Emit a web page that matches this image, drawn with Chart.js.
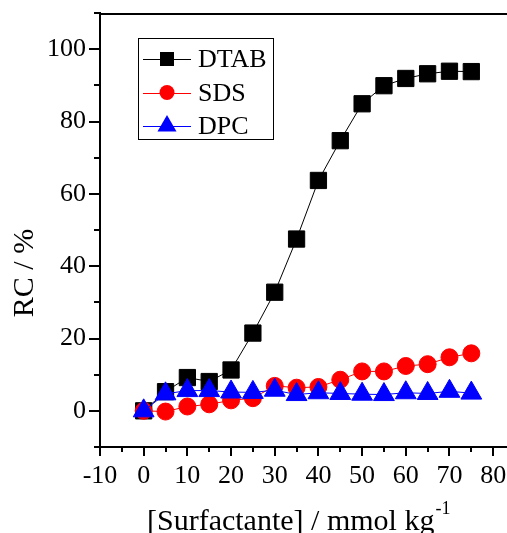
<!DOCTYPE html>
<html>
<head>
<meta charset="utf-8">
<script src="https://cdn.jsdelivr.net/npm/chart.js@4.4.1/dist/chart.umd.min.js"></script>
<style>
  html, body { margin: 0; padding: 0; overflow: hidden; background: #fff; }
  canvas { display: block; }
</style>
</head>
<body>
<canvas id="grafica" width="530" height="533"></canvas>
<script>
// datos
const concentracion = [0, 5, 10, 15, 20, 25, 30, 35, 40, 45, 50, 55, 60, 65, 70, 75];
const dtab = [0, 5.3, 9.2, 8.1, 11.3, 21.5, 32.8, 47.5, 63.7, 74.7, 84.9, 89.9, 91.9, 93.2, 93.9, 93.8];
const sds  = [0, -0.2, 1.2, 1.8, 2.9, 3.5, 6.9, 6.4, 6.6, 8.6, 10.9, 10.9, 12.4, 12.9, 14.8, 15.9];
const dpc  = [0, 4.7, 5.6, 5.6, 5.2, 5.1, 5.7, 4.5, 5.0, 4.8, 4.6, 4.5, 5.0, 4.8, 5.4, 4.9];
const nombres = ['DTAB', 'SDS', 'DPC'];

// etiquetas de los ejes
const etiquetasX = [-10, 0, 10, 20, 30, 40, 50, 60, 70, 80];
const etiquetasY = [0, 20, 40, 60, 80, 100];
const tituloX = '[Surfactante] / mmol kg';
const tituloY = 'RC / %';

const fuente = 'Liberation Serif';
Chart.defaults.font.family = fuente;

function puntos(valores) {
    return concentracion.map((c, i) => ({ x: c, y: valores[i] }));
}

function dibujarMarca(ctx, estilo, x, y, r) {
    ctx.beginPath();
    if (estilo === 'rect') {
        ctx.rect(x - r, y - r, 2 * r, 2 * r);
    } else if (estilo === 'circle') {
        ctx.arc(x, y, r, 0, Math.PI * 2);
    } else {
        ctx.moveTo(x, y - r);
        ctx.lineTo(x + r * 0.866, y + r / 2);
        ctx.lineTo(x - r * 0.866, y + r / 2);
        ctx.closePath();
    }
    ctx.fill();
}

function sinRelleno(s) {
    s.paddingTop = 0;
    s.paddingBottom = 0;
    s.paddingLeft = 0;
    s.paddingRight = 0;
}

// marcas de los ejes, marco y titulos
const ejes = {
    id: 'ejes',
    afterDraw(chart) {
        const { ctx, chartArea: a, scales: { x, y } } = chart;
        ctx.save();
        ctx.strokeStyle = '#000';
        ctx.lineWidth = 2;
        ctx.beginPath();
        ctx.moveTo(a.left - 1, a.top + 1);
        ctx.lineTo(a.right, a.top + 1);
        ctx.lineTo(a.right, a.bottom);
        x.ticks.forEach(t => {
            const px = Math.round(x.getPixelForValue(t.value));
            const largo = etiquetasX.includes(t.value) ? 9 : 5;
            ctx.moveTo(px, a.bottom);
            ctx.lineTo(px, a.bottom + largo);
        });
        y.ticks.forEach(t => {
            const py = Math.round(y.getPixelForValue(t.value));
            const largo = etiquetasY.includes(t.value) ? 11 : 6;
            ctx.moveTo(a.left, py);
            ctx.lineTo(a.left - largo, py);
        });
        ctx.stroke();

        ctx.fillStyle = '#000';
        ctx.textBaseline = 'alphabetic';
        ctx.font = '30px ' + fuente;
        ctx.textAlign = 'left';
        ctx.fillText(tituloX, 147, 530);
        const ancho = ctx.measureText(tituloX).width;
        ctx.font = '18px ' + fuente;
        ctx.fillText('-1', 147 + ancho + 1, 514);

        ctx.translate(33, 273);
        ctx.rotate(-Math.PI / 2);
        ctx.font = '30px ' + fuente;
        ctx.textAlign = 'center';
        ctx.fillText(tituloY, 0, 0);
        ctx.restore();
    }
};

// leyenda con caja
const leyenda = {
    id: 'leyenda',
    afterDraw(chart) {
        const ctx = chart.ctx;
        ctx.save();
        ctx.fillStyle = '#fff';
        ctx.fillRect(138, 38, 136, 101);
        ctx.strokeStyle = '#000';
        ctx.lineWidth = 1;
        ctx.strokeRect(138.5, 38.5, 135, 101);
        const filas = [59, 92.5, 126];
        const tam = [7, 7.5, 11];
        chart.data.datasets.forEach((ds, i) => {
            const yy = filas[i];
            ctx.strokeStyle = ds.borderColor;
            ctx.lineWidth = 1;
            ctx.beginPath();
            ctx.moveTo(143, Math.round(yy) + 0.5);
            ctx.lineTo(191, Math.round(yy) + 0.5);
            ctx.stroke();
            ctx.fillStyle = ds.backgroundColor;
            dibujarMarca(ctx, ds.pointStyle, 167, yy, tam[i]);
            ctx.fillStyle = '#000';
            ctx.font = '26px ' + fuente;
            ctx.textAlign = 'left';
            ctx.textBaseline = 'alphabetic';
            ctx.fillText(ds.label, 198, yy + 8);
        });
        ctx.restore();
    }
};

new Chart(document.getElementById('grafica'), {
    type: 'scatter',
    data: {
        datasets: [
            {
                label: nombres[0], data: puntos(dtab), showLine: true,
                borderColor: '#000000', backgroundColor: '#000000', borderWidth: 1,
                pointStyle: 'rect', pointRadius: 11.5, pointBorderWidth: 1, order: 3
            },
            {
                label: nombres[1], data: puntos(sds), showLine: true,
                borderColor: '#ff0000', backgroundColor: '#ff0000', borderWidth: 1,
                pointStyle: 'circle', pointRadius: 8.5, pointBorderWidth: 1, order: 2
            },
            {
                label: nombres[2], data: puntos(dpc), showLine: true,
                borderColor: '#0000ff', backgroundColor: '#0000ff', borderWidth: 1,
                pointStyle: 'triangle', pointRadius: 12, pointBorderWidth: 1, order: 1
            }
        ]
    },
    options: {
        responsive: false,
        devicePixelRatio: 1,
        animation: false,
        events: [],
        layout: { padding: { top: 13, right: 15, left: 0, bottom: 0 } },
        plugins: { legend: { display: false }, tooltip: { enabled: false } },
        scales: {
            x: {
                type: 'linear', min: -10, max: 85,
                grid: { display: true, drawOnChartArea: false, drawTicks: false },
                border: { display: true, color: '#000', width: 2 },
                ticks: {
                    stepSize: 5, padding: 14, color: '#000', maxRotation: 0, autoSkip: false,
                    font: { family: fuente, size: 26 },
                    callback: v => etiquetasX.includes(v) ? String(v) : ''
                },
                afterFit: s => { s.height = 86; sinRelleno(s); }
            },
            y: {
                type: 'linear', min: -10, max: 110,
                grid: { display: true, drawOnChartArea: false, drawTicks: false },
                border: { display: true, color: '#000', width: 2 },
                ticks: {
                    stepSize: 10, padding: 14, color: '#000', autoSkip: false,
                    font: { family: fuente, size: 26 },
                    callback: v => etiquetasY.includes(v) ? String(v) : ''
                },
                afterFit: s => { s.width = 100; sinRelleno(s); }
            }
        }
    },
    plugins: [ejes, leyenda]
});
</script>
</body>
</html>
